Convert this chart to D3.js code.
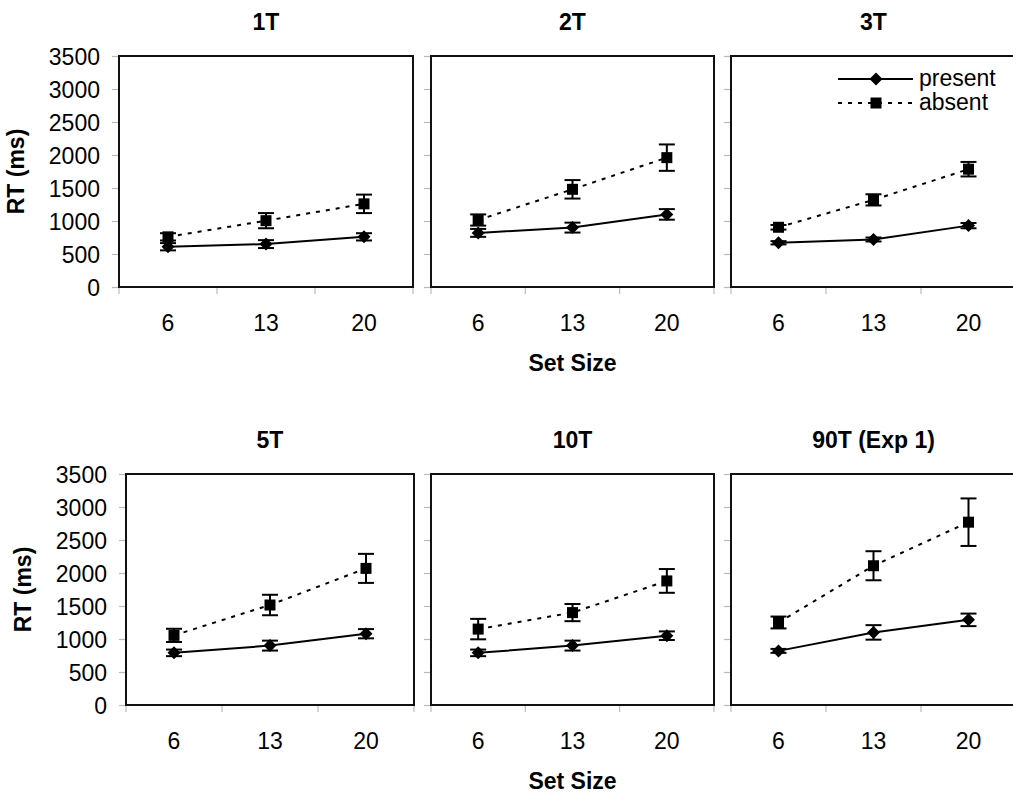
<!DOCTYPE html>
<html><head><meta charset="utf-8">
<script src="https://cdn.jsdelivr.net/npm/d3@7"></script>
<style>
html,body{margin:0;padding:0;background:#fff;}
svg{display:block;font-family:"Liberation Sans",Arial,sans-serif;}
</style></head><body>
<svg id="c" width="1013" height="800"></svg>
<script>
// ---- data ----
const setSizes = ["6", "13", "20"];
const panelTitles = ["1T", "2T", "3T", "5T", "10T", "90T (Exp 1)"];
const yTicks = [0, 500, 1000, 1500, 2000, 2500, 3000, 3500];
const presentMeans = [[610, 650, 760], [820, 900, 1100], [670, 720, 930], [790, 900, 1080], [790, 900, 1050], [820, 1100, 1290]];
const presentErr   = [[55, 60, 55], [60, 75, 80], [25, 30, 40], [50, 75, 70], [50, 75, 65], [30, 110, 95]];
const absentMeans  = [[760, 1005, 1260], [1015, 1480, 1960], [905, 1320, 1785], [1055, 1515, 2070], [1150, 1400, 1880], [1250, 2110, 2770]];
const absentErr    = [[55, 115, 140], [85, 140, 200], [35, 85, 110], [100, 155, 220], [155, 130, 180], [90, 220, 360]];
const seriesNames = ["present", "absent"];

// ---- layout ----
const panelBoxes = [
  {x0: 119, x1: 413, y0: 56, y1: 287},
  {x0: 431, x1: 714, y0: 56, y1: 287},
  {x0: 731, x1: 1016, y0: 56, y1: 287},
  {x0: 126, x1: 414, y0: 474, y1: 705},
  {x0: 431, x1: 714, y0: 474, y1: 705},
  {x0: 731, x1: 1016, y0: 474, y1: 705}
];
const FS = 23;
const svg = d3.select("#c");
const diamondPath = "M0,-6.5L6.5,0L0,6.5L-6.5,0Z";

panelBoxes.forEach((b, i) => {
  const g = svg.append("g");
  const x = d3.scaleBand().domain(setSizes).range([b.x0, b.x1]).padding(0);
  const y = d3.scaleLinear().domain([0, 3500]).range([b.y1, b.y0]);

  // y axis ticks (gray marks)
  const ya = g.append("g").attr("transform", `translate(${b.x0},0)`)
    .call(d3.axisLeft(y).tickValues(yTicks).tickSize(7).tickFormat(d => (i % 3 === 0) ? d : ""));
  ya.select(".domain").remove();
  ya.selectAll(".tick line").attr("stroke", "#bbb").attr("stroke-width", 1.2);
  ya.selectAll(".tick text").attr("font-size", FS).attr("fill", "#000").attr("x", -19).attr("dy", "0.36em")
    .attr("font-family", "Liberation Sans, Arial, sans-serif");

  // x axis ticks at band boundaries
  const bounds = [b.x0, ...setSizes.slice(1).map(s => x(s)), b.x1];
  g.selectAll(".xt").data(bounds).enter().append("line")
    .attr("x1", d => d).attr("x2", d => d).attr("y1", b.y1).attr("y2", b.y1 + 7)
    .attr("stroke", "#bbb").attr("stroke-width", 1.2);
  g.selectAll(".xl").data(setSizes).enter().append("text")
    .attr("x", d => x(d) + x.bandwidth() / 2).attr("y", b.y1 + 44)
    .attr("text-anchor", "middle").attr("font-size", FS).text(d => d);

  // frame
  g.append("rect").attr("x", b.x0).attr("y", b.y0).attr("width", b.x1 - b.x0).attr("height", b.y1 - b.y0)
    .attr("fill", "none").attr("stroke", "#111").attr("stroke-width", 2);

  // title
  g.append("text").attr("x", (b.x0 + b.x1) / 2).attr("y", b.y0 - 26)
    .attr("text-anchor", "middle").attr("font-size", FS).attr("font-weight", "bold").text(panelTitles[i]);

  const cx = d => x(d) + x.bandwidth() / 2;
  const series = [
    {means: absentMeans[i], errs: absentErr[i], dash: "4,6", sym: "square"},
    {means: presentMeans[i], errs: presentErr[i], dash: null, sym: "diamond"}
  ];
  series.forEach(s => {
    const pts = setSizes.map((k, j) => ({k, v: s.means[j], e: s.errs[j]}));
    const line = d3.line().x(d => cx(d.k)).y(d => y(d.v));
    g.append("path").datum(pts).attr("d", line).attr("fill", "none").attr("stroke", "#000")
      .attr("stroke-width", 2).attr("stroke-dasharray", s.dash);
    // error bars
    pts.forEach(p => {
      const px = cx(p.k);
      g.append("line").attr("x1", px).attr("x2", px).attr("y1", y(p.v - p.e)).attr("y2", y(p.v + p.e)).attr("stroke", "#000").attr("stroke-width", 2);
      [p.v - p.e, p.v + p.e].forEach(v => {
        g.append("line").attr("x1", px - 8).attr("x2", px + 8).attr("y1", y(v)).attr("y2", y(v)).attr("stroke", "#000").attr("stroke-width", 2);
      });
    });
    pts.forEach(p => {
      const px = cx(p.k), py = y(p.v);
      if (s.sym === "square") {
        g.append("rect").attr("x", px - 5.5).attr("y", py - 5.5).attr("width", 11).attr("height", 11).attr("fill", "#000");
      } else {
        g.append("path").attr("d", diamondPath).attr("transform", `translate(${px},${py})`).attr("fill", "#000");
      }
    });
  });

  // axis titles
  if (i % 3 === 0) {
    g.append("text").attr("transform", `translate(${b.x0 - 95},${(b.y0 + b.y1) / 2}) rotate(-90)`)
      .attr("text-anchor", "middle").attr("font-size", FS).attr("font-weight", "bold").text("RT (ms)");
  }
  if (i % 3 === 1) {
    g.append("text").attr("x", (b.x0 + b.x1) / 2).attr("y", b.y1 + 84)
      .attr("text-anchor", "middle").attr("font-size", FS).attr("font-weight", "bold").text("Set Size");
  }

  // legend
  if (i === 2) {
    const lx0 = 838, lx1 = 913, lxm = 876;
    const rows = [{name: seriesNames[0], yy: 79, dash: null, sym: "diamond"}, {name: seriesNames[1], yy: 103, dash: "4,6", sym: "square"}];
    rows.forEach(r => {
      g.append("line").attr("x1", lx0).attr("x2", lx1).attr("y1", r.yy).attr("y2", r.yy)
        .attr("stroke", "#000").attr("stroke-width", 2).attr("stroke-dasharray", r.dash);
      if (r.sym === "square") g.append("rect").attr("x", lxm - 5.5).attr("y", r.yy - 5.5).attr("width", 11).attr("height", 11);
      else g.append("path").attr("d", diamondPath).attr("transform", `translate(${lxm},${r.yy})`);
      g.append("text").attr("x", 919).attr("y", r.yy + 7).attr("font-size", FS).text(r.name);
    });
  }
});
</script></body></html>
